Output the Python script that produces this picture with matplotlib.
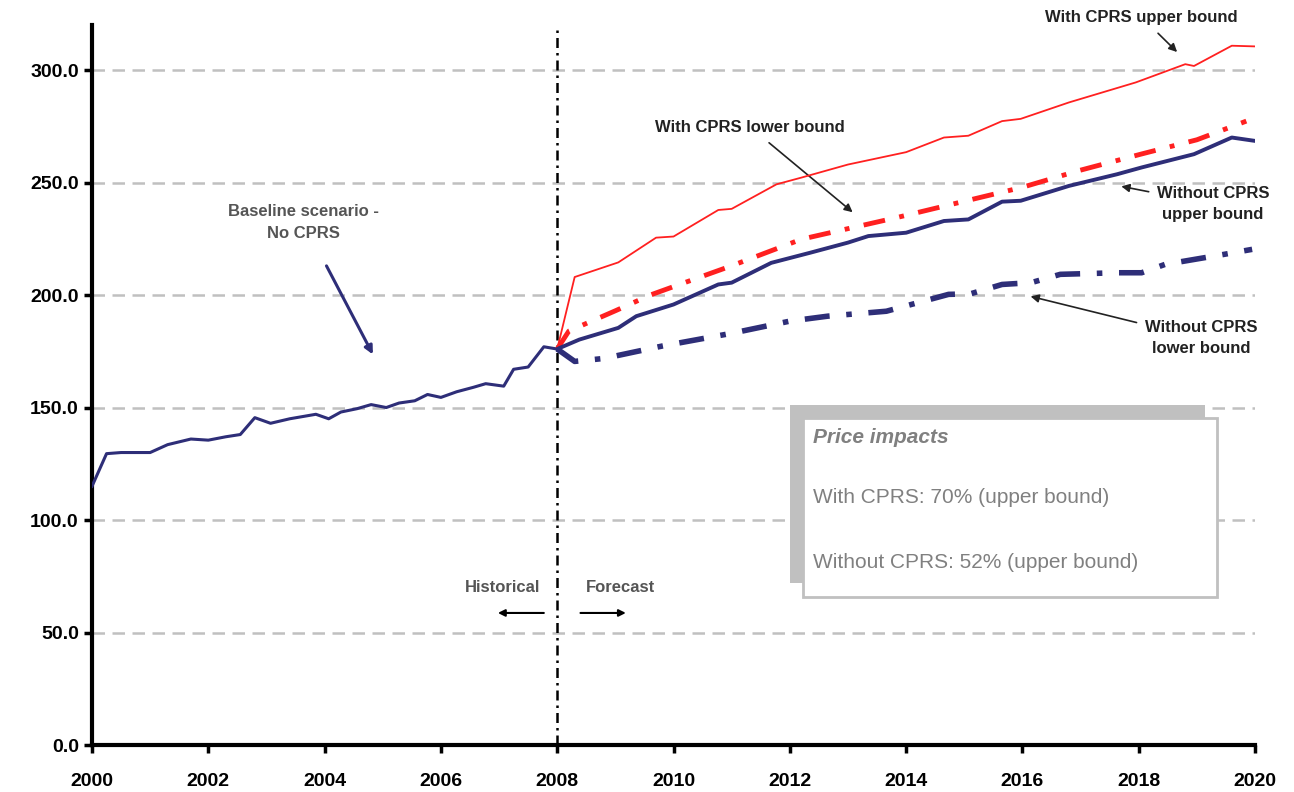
import matplotlib.pyplot as plt
from matplotlib.patches import Rectangle

# historical baseline (no CPRS)
hist_years = [2000.0, 2000.25, 2000.5, 2001.0, 2001.3, 2001.7, 2002.0, 2002.3, 2002.55,
              2002.8, 2003.07, 2003.4, 2003.85, 2004.07, 2004.28, 2004.56, 2004.8,
              2005.06, 2005.28, 2005.55, 2005.77, 2006.0, 2006.27, 2006.56, 2006.77,
              2007.08, 2007.25, 2007.5, 2007.77, 2008.0]
hist_vals = [115, 129.5, 130, 130, 133.5, 136, 135.5, 137, 138,
             145.5, 143, 145, 147, 145, 148, 149.5, 151.3,
             150, 152, 153, 155.8, 154.5, 157, 159, 160.6,
             159.5, 167, 168, 177, 176]

# forecasts
with_up_years = [2008.0, 2008.3, 2009.05, 2009.7, 2010.0, 2010.77, 2011.0, 2011.77, 2012.2,
                 2013.0, 2014.0, 2014.65, 2015.07, 2015.65, 2015.97, 2016.8, 2017.95,
                 2018.8, 2018.95, 2019.6, 2020.0]
with_up_vals = [176, 208, 214.5, 225.5, 226, 237.8, 238.3, 249.2, 252.2,
                258, 263.5, 270, 270.8, 277.3, 278.3, 285.6, 294.5,
                302.6, 301.8, 310.8, 310.5]

with_lo_years = [2008.0, 2008.2, 2009.0, 2009.6, 2010.2, 2011.0, 2012.2, 2013.85,
                 2016.0, 2016.97, 2018.05, 2019.0, 2019.85]
with_lo_vals = [176, 184, 193, 200, 205.6, 213, 224.8, 234.5,
                247.9, 255.3, 262.7, 269, 277.3]

without_up_years = [2008.0, 2008.38, 2009.05, 2009.36, 2010.0, 2010.77, 2011.0, 2011.68,
                    2012.35, 2013.0, 2013.35, 2014.0, 2014.65, 2015.07, 2015.65, 2015.97,
                    2016.8, 2017.63, 2018.05, 2018.95, 2019.6, 2020.0]
without_up_vals = [176, 180.2, 185.4, 190.6, 195.8, 204.7, 205.5, 214.3,
                   218.8, 223.3, 226.2, 227.7, 232.9, 233.6, 241.5, 241.9,
                   248.5, 253.7, 256.7, 262.6, 270, 268.5]

without_lo_years = [2008.0, 2008.3, 2008.8, 2009.8, 2011.0, 2012.0, 2012.65, 2013.66,
                    2014.73, 2015.1, 2015.65, 2016.15, 2016.65, 2017.63, 2018.05,
                    2018.45, 2019.45, 2019.95]
without_lo_vals = [176, 170.5, 171.8, 177.3, 183, 188.4, 190.6, 192.8,
                   200.3, 200.5, 204.7, 205.5, 209.2, 209.9, 209.9,
                   213.6, 218, 220.3]

x_ticks = list(range(2000, 2021, 2))
y_ticks = [0, 50, 100, 150, 200, 250, 300]

navy = '#2e2e78'
red = '#ff2020'
grey_txt = '#555555'

plt.rcParams['font.family'] = ['Liberation Sans', 'DejaVu Sans']

fig = plt.figure(figsize=(12.94, 7.92), dpi=100)
ax = fig.add_axes([0.0711, 0.0593, 0.8988, 0.9091])

ax.plot(hist_years, hist_vals, color=navy, lw=2.2, zorder=4)
ax.plot(with_up_years, with_up_vals, color=red, lw=1.3, zorder=4)
ax.plot(with_lo_years, with_lo_vals, color=red, lw=3.5, ls=(0, (4.5, 3, 1, 3)), zorder=4)
ax.plot(without_up_years, without_up_vals, color=navy, lw=2.8, zorder=4)
ax.plot(without_lo_years, without_lo_vals, color=navy, lw=4, ls=(0, (4.5, 3, 1, 3)), zorder=4)

ax.axvline(2008, color='black', lw=1.8, ls=(0, (4, 2, 1, 2)), zorder=3)

ax.set_xlim(2000, 2020)
ax.set_ylim(0, 320)
ax.set_xticks(x_ticks)
ax.set_yticks(y_ticks)
ax.set_yticklabels(['%.1f' % v for v in y_ticks])
ax.yaxis.grid(True, color='#c0c0c0', lw=1.8, ls=(0, (5, 3)))
ax.set_axisbelow(True)
for s in ['top', 'right']:
    ax.spines[s].set_visible(False)
for s in ['left', 'bottom']:
    ax.spines[s].set_linewidth(3)
ax.tick_params(axis='both', direction='out', width=2.5, length=6, labelsize=14)
ax.tick_params(axis='x', pad=14)
for lab in ax.get_xticklabels() + ax.get_yticklabels():
    lab.set_fontweight('bold')

# annotations
ax.annotate('Baseline scenario -\nNo CPRS', xy=(2004.83, 173.6), xytext=(2003.64, 232.3),
            ha='center', va='center', fontsize=12, fontweight='bold', color=grey_txt,
            linespacing=1.6,
            arrowprops=dict(arrowstyle='-|>', color=navy, lw=2.2, shrinkA=18, shrinkB=0))
ax.annotate('With CPRS upper bound', xy=(2018.66, 308), xytext=(2018.05, 323.5),
            ha='center', va='center', fontsize=12, fontweight='bold', color='#222222',
            annotation_clip=False,
            arrowprops=dict(arrowstyle='-|>', color='#222222', lw=1.2, shrinkA=6, shrinkB=0))
ax.annotate('With CPRS lower bound', xy=(2013.08, 236.8), xytext=(2011.32, 274.6),
            ha='center', va='center', fontsize=12, fontweight='bold', color='#222222',
            arrowprops=dict(arrowstyle='-|>', color='#222222', lw=1.2, shrinkA=6, shrinkB=0))
ax.annotate('Without CPRS\nupper bound', xy=(2017.7, 248.3), xytext=(2019.28, 240.3),
            ha='center', va='center', fontsize=12, fontweight='bold', color='#222222',
            linespacing=1.5, annotation_clip=False,
            arrowprops=dict(arrowstyle='-|>', color='#222222', lw=1.2, shrinkA=4, shrinkB=0))
ax.annotate('Without CPRS\nlower bound', xy=(2016.14, 199.4), xytext=(2019.07, 180.7),
            ha='center', va='center', fontsize=12, fontweight='bold', color='#222222',
            linespacing=1.5, annotation_clip=False,
            arrowprops=dict(arrowstyle='-|>', color='#222222', lw=1.2, shrinkA=4, shrinkB=0))

ax.text(2007.06, 69.9, 'Historical', ha='center', va='center', fontsize=12,
        fontweight='bold', color=grey_txt)
ax.text(2009.09, 69.9, 'Forecast', ha='center', va='center', fontsize=12,
        fontweight='bold', color=grey_txt)
ax.annotate('', xy=(2006.98, 58.7), xytext=(2007.77, 58.7),
            arrowprops=dict(arrowstyle='-|>', color='black', lw=1.5, shrinkA=0, shrinkB=0))
ax.annotate('', xy=(2009.18, 58.7), xytext=(2008.4, 58.7),
            arrowprops=dict(arrowstyle='-|>', color='black', lw=1.5, shrinkA=0, shrinkB=0))

# price impacts box
ax.add_patch(Rectangle((0.6002, 0.225), 0.3568, 0.2472, transform=ax.transAxes,
                       facecolor='#c0c0c0', edgecolor='none', zorder=5))
ax.add_patch(Rectangle((0.6113, 0.2056), 0.356, 0.2486, transform=ax.transAxes,
                       facecolor='white', edgecolor='#c0c0c0', lw=2, zorder=6))
ax.text(0.62, 0.4278, 'Price impacts', transform=ax.transAxes, fontsize=15,
        fontweight='bold', style='italic', color='#808080', va='center', zorder=7)
ax.text(0.62, 0.3444, 'With CPRS: 70% (upper bound)', transform=ax.transAxes, fontsize=15,
        color='#808080', va='center', zorder=7)
ax.text(0.62, 0.2542, 'Without CPRS: 52% (upper bound)', transform=ax.transAxes, fontsize=15,
        color='#808080', va='center', zorder=7)

plt.savefig('out.png', dpi=100)
